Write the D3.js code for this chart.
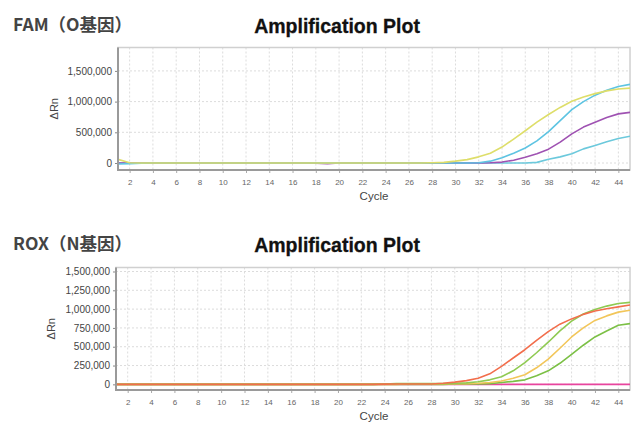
<!DOCTYPE html>
<html><head><meta charset="utf-8">
<script src="https://cdn.jsdelivr.net/npm/d3@7"></script>
<style>
html,body{margin:0;padding:0;background:#fff;}
svg{display:block;}
</style></head>
<body>
<svg id="c" width="633" height="422"></svg>
<script>
const cycles = d3.range(1, 46);
const xTicks = d3.range(2, 45, 2);

// FAM (O gene)
const famTitle = "FAM（O基因）";
const famYTicks = [0, 500000, 1000000, 1500000];
const famYellow = [60000,5000,0,0,0,0,0,0,0,0,0,0,0,0,0,0,0,0,0,0,0,0,0,0,0,0,0,3000,10000,30000,55000,100000,160000,260000,390000,525000,665000,790000,905000,1005000,1075000,1130000,1175000,1205000,1220000];
const famCyan1  = [-16000,-10000,-5000,0,0,0,0,0,0,0,0,0,0,0,0,0,0,0,0,0,0,0,0,0,0,0,0,0,0,0,0,5000,30000,85000,160000,245000,360000,510000,690000,870000,1000000,1105000,1185000,1245000,1280000];
const famPurple = [0,0,0,0,0,0,0,0,0,0,0,0,0,0,0,0,0,-4000,-12000,0,0,0,0,0,0,0,0,0,0,0,0,0,3000,15000,45000,95000,150000,225000,340000,475000,585000,665000,740000,800000,825000];
const famCyan2  = [0,0,0,0,0,0,0,0,0,0,0,0,0,0,0,0,0,0,0,0,0,0,0,0,0,0,0,0,0,0,0,0,0,0,0,0,10000,60000,100000,150000,230000,285000,345000,398000,435000];

// ROX (N gene)
const roxTitle = "ROX（N基因）";
const roxYTicks = [0, 250000, 500000, 750000, 1000000, 1250000, 1500000];
const roxMagenta = cycles.map(() => 0);
const roxGreen2 = [0,0,0,0,0,0,0,0,0,0,0,0,0,0,0,0,0,0,0,0,0,0,0,0,0,0,0,0,0,5000,5000,5000,10000,25000,40000,60000,115000,180000,280000,400000,520000,630000,710000,785000,807000];
const roxYellow = [0,0,0,0,0,0,0,0,0,0,0,0,0,0,0,0,0,0,0,0,0,0,0,0,0,8000,8000,8000,8000,8000,10000,15000,25000,45000,80000,128000,220000,335000,480000,630000,750000,850000,910000,960000,985000];
const roxGreen1 = [0,0,0,0,0,0,0,0,0,0,0,0,0,0,0,0,0,0,0,0,0,0,0,5000,10000,12000,12000,12000,12000,15000,20000,35000,60000,100000,180000,290000,420000,560000,710000,840000,935000,995000,1040000,1075000,1090000];
const roxRed    = [0,0,0,0,0,0,0,0,0,0,0,0,0,0,0,0,0,0,0,0,0,0,0,3000,5000,5000,5000,5000,15000,30000,50000,80000,140000,240000,350000,460000,585000,700000,800000,870000,930000,975000,1005000,1030000,1055000];

const charts = [
  {
    label: famTitle, labelY: 31, titleY: 33,
    x0: 118, x1: 630, top: 47.5, bottom: 170,
    yDomain: [-114000, 1881000], yTicks: famYTicks,
    ylabX: 58, cycleY: 200,
    series: [
      {v: famCyan2, c: "#6cc9dc"},
      {v: famPurple, c: "#9f52b2"},
      {v: famCyan1, c: "#5ec4e2"},
      {v: famYellow, c: "#dede6a"}
    ]
  },
  {
    label: roxTitle, labelY: 250, titleY: 252,
    x0: 116, x1: 630, top: 267.5, bottom: 390,
    yDomain: [-75000, 1553000], yTicks: roxYTicks,
    ylabX: 55, cycleY: 420,
    series: [
      {v: roxMagenta, c: "#e8449e"},
      {v: roxGreen2, c: "#7cc046"},
      {v: roxYellow, c: "#f2c65a"},
      {v: roxGreen1, c: "#8fca52"},
      {v: roxRed, c: "#f26e4c"}
    ]
  }
];

const svg = d3.select("#c");
const fmt = d3.format(",");

charts.forEach(ch => {
  const g = svg.append("g");
  const x = d3.scaleLinear().domain([1, 45]).range([ch.x0, ch.x1]);
  const y = d3.scaleLinear().domain(ch.yDomain).range([ch.bottom, ch.top]);

  // side label
  g.append("text").attr("x", 13).attr("y", ch.labelY)
    .attr("font-family", "'Noto Sans CJK SC','Noto Sans',sans-serif")
    .attr("font-weight", "bold").attr("font-size", 17.5).attr("fill", "#444")
    .text(ch.label);

  // title
  g.append("text").attr("x", 337).attr("y", ch.titleY).attr("text-anchor", "middle")
    .attr("font-family", "'Liberation Sans',Arial,sans-serif")
    .attr("font-weight", "bold").attr("font-size", 19.5).attr("fill", "#111")
    .attr("stroke", "#111").attr("stroke-width", 0.3)
    .text("Amplification Plot");

  // grid
  g.append("g").selectAll("line").data(xTicks).join("line")
    .attr("x1", d => x(d)).attr("x2", d => x(d))
    .attr("y1", ch.top).attr("y2", ch.bottom)
    .attr("stroke", "#dcdcdc").attr("stroke-dasharray", "2,2").attr("stroke-width", 1);
  g.append("g").selectAll("line").data(ch.yTicks).join("line")
    .attr("x1", ch.x0).attr("x2", ch.x1)
    .attr("y1", d => y(d)).attr("y2", d => y(d))
    .attr("stroke", "#dcdcdc").attr("stroke-dasharray", "2,2").attr("stroke-width", 1);

  // frame top/right
  g.append("rect").attr("x", ch.x0).attr("y", ch.top)
    .attr("width", ch.x1 - ch.x0).attr("height", ch.bottom - ch.top)
    .attr("fill", "none").attr("stroke", "#d0d0d0").attr("stroke-width", 1.5);

  // lines
  const line = d3.line().x((d, i) => x(cycles[i])).y(d => y(d));
  const clipId = "clip" + Math.round(ch.top);
  svg.append("clipPath").attr("id", clipId).append("rect")
    .attr("x", ch.x0).attr("y", ch.top).attr("width", ch.x1 - ch.x0).attr("height", ch.bottom - ch.top);
  const lg = g.append("g").attr("clip-path", `url(#${clipId})`);
  ch.series.forEach(s => {
    lg.append("path").datum(s.v).attr("d", line)
      .attr("fill", "none").attr("stroke", s.c).attr("stroke-width", 1.6)
      .attr("stroke-linejoin", "round");
  });

  // axes
  const ya = d3.axisLeft(y).tickValues(ch.yTicks).tickFormat(fmt).tickSize(3).tickPadding(3);
  const yg = g.append("g").attr("transform", `translate(${ch.x0},0)`).call(ya);
  yg.select(".domain").remove();
  yg.selectAll(".tick line").attr("stroke", "#888");
  yg.selectAll("text").attr("font-family", "'Liberation Sans',Arial,sans-serif")
    .attr("font-size", 10).attr("fill", "#444");

  const xa = d3.axisBottom(x).tickValues(xTicks).tickFormat(d3.format("d")).tickSize(3).tickPadding(6);
  const xg = g.append("g").attr("transform", `translate(0,${ch.bottom})`).call(xa);
  xg.select(".domain").remove();
  xg.selectAll(".tick line").attr("stroke", "#aaa");
  xg.selectAll("text").attr("font-family", "'Liberation Sans',Arial,sans-serif")
    .attr("font-size", 8).attr("fill", "#666");

  // axis lines left/bottom
  g.append("line").attr("x1", ch.x0).attr("x2", ch.x0).attr("y1", ch.top).attr("y2", ch.bottom + 1)
    .attr("stroke", "#9a9a9a").attr("stroke-width", 2);
  g.append("line").attr("x1", ch.x0).attr("x2", ch.x1).attr("y1", ch.bottom).attr("y2", ch.bottom)
    .attr("stroke", "#9a9a9a").attr("stroke-width", 2);

  // axis titles
  g.append("text").attr("transform", `translate(${ch.ylabX},${(ch.top + ch.bottom) / 2}) rotate(-90)`)
    .attr("text-anchor", "middle").attr("font-family", "'Liberation Sans',Arial,sans-serif")
    .attr("font-size", 11).attr("fill", "#444").text("ΔRn");
  g.append("text").attr("x", 374).attr("y", ch.cycleY).attr("text-anchor", "middle")
    .attr("font-family", "'Liberation Sans',Arial,sans-serif")
    .attr("font-size", 11.5).attr("fill", "#444").text("Cycle");
});
</script>
</body></html>
